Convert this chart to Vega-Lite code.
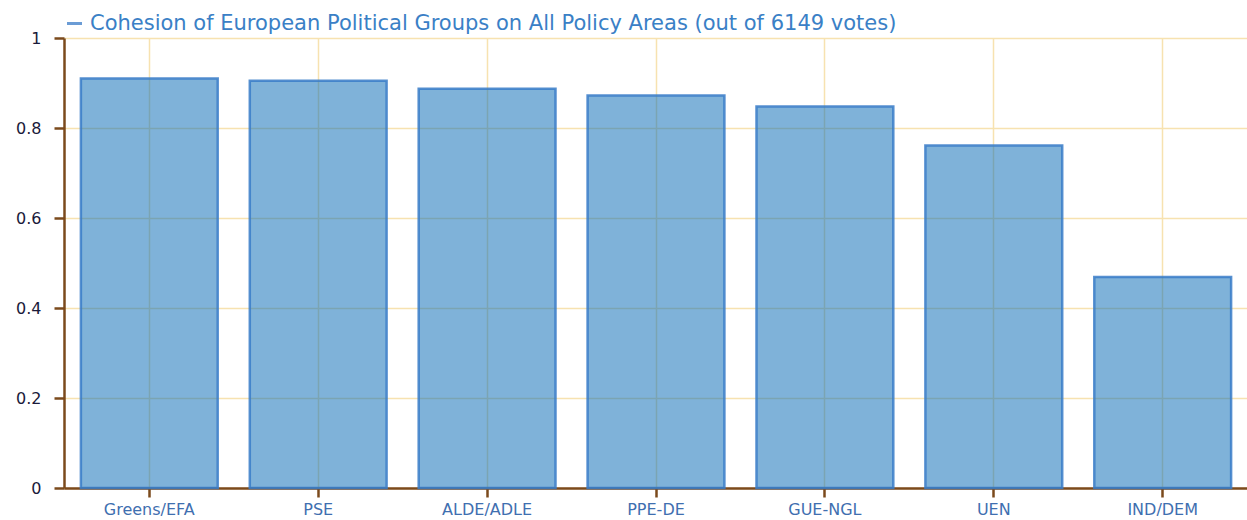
{
  "$schema": "https://vega.github.io/schema/vega-lite/v6.json",
  "width": 1184,
  "height": 450,
  "autosize": {"type": "none"},
  "padding": {"left": 64, "top": 38, "right": 0, "bottom": 32},
  "background": "white",
  "config": {
    "view": {"stroke": null},
    "font": "DejaVu Sans"
  },
  "data": {
    "values": [
      {"group": "Greens/EFA", "cohesion": 0.910, "series": "Cohesion of European Political Groups on All Policy Areas (out of 6149 votes)"},
      {"group": "PSE", "cohesion": 0.905, "series": "Cohesion of European Political Groups on All Policy Areas (out of 6149 votes)"},
      {"group": "ALDE/ADLE", "cohesion": 0.887, "series": "Cohesion of European Political Groups on All Policy Areas (out of 6149 votes)"},
      {"group": "PPE-DE", "cohesion": 0.872, "series": "Cohesion of European Political Groups on All Policy Areas (out of 6149 votes)"},
      {"group": "GUE-NGL", "cohesion": 0.848, "series": "Cohesion of European Political Groups on All Policy Areas (out of 6149 votes)"},
      {"group": "UEN", "cohesion": 0.761, "series": "Cohesion of European Political Groups on All Policy Areas (out of 6149 votes)"},
      {"group": "IND/DEM", "cohesion": 0.469, "series": "Cohesion of European Political Groups on All Policy Areas (out of 6149 votes)"}
    ]
  },
  "mark": {
    "type": "bar",
    "fill": "#0066b3",
    "fillOpacity": 0.5,
    "strokeWidth": 2.5,
    "strokeOpacity": 0.85
  },
  "encoding": {
    "x": {
      "field": "group",
      "type": "nominal",
      "sort": null,
      "scale": {"paddingInner": 0.19, "paddingOuter": 0.1},
      "axis": {
        "title": null,
        "labelAngle": 0,
        "labelFont": "DejaVu Sans",
        "labelFontSize": 16,
        "labelColor": "#3f6fb0",
        "labelPadding": 4,
        "domainColor": "#7b4a1c",
        "domainWidth": 2.5,
        "tickColor": "#7b4a1c",
        "tickWidth": 2.5,
        "tickSize": 9,
        "bandPosition": 0.5,
        "grid": true,
        "gridColor": "#f7e2b0",
        "gridWidth": 1.5
      }
    },
    "y": {
      "field": "cohesion",
      "type": "quantitative",
      "scale": {"domain": [0, 1]},
      "axis": {
        "title": null,
        "values": [0, 0.2, 0.4, 0.6, 0.8, 1],
        "labelExpr": "datum.value + ''",
        "labelFont": "DejaVu Sans",
        "labelFontSize": 16,
        "labelColor": "#1a1a3a",
        "labelPadding": 13,
        "domainColor": "#7b4a1c",
        "domainWidth": 2.5,
        "tickColor": "#7b4a1c",
        "tickWidth": 2.5,
        "tickSize": 10,
        "grid": true,
        "gridColor": "#f7e2b0",
        "gridWidth": 1.5
      }
    },
    "stroke": {
      "field": "series",
      "type": "nominal",
      "scale": {"range": ["#3a7cc8"]},
      "legend": {
        "title": null,
        "orient": "top",
        "offset": 4,
        "symbolType": "stroke",
        "symbolSize": 225,
        "symbolStrokeWidth": 3,
        "symbolOpacity": 0.75,
        "labelFont": "DejaVu Sans",
        "labelFontSize": 21,
        "labelColor": "#3a80c6",
        "labelLimit": 1200,
        "labelOffset": 5,
        "padding": 0
      }
    }
  }
}
